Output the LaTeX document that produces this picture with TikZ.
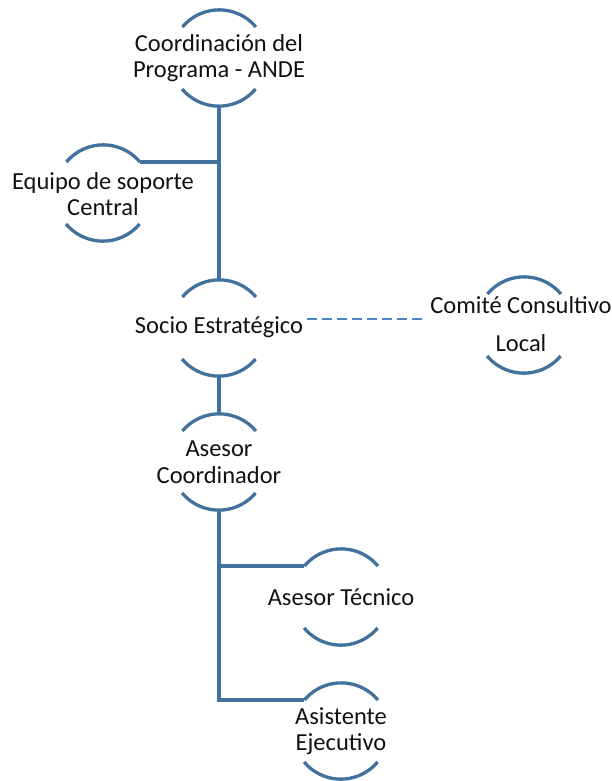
\documentclass[tikz,border=0pt]{standalone}
\usepackage{fontspec}
\setmainfont{Carlito}
\definecolor{arcblue}{HTML}{41719C}
\definecolor{dashblue}{HTML}{4A84C4}
\definecolor{txt}{HTML}{111111}
\begin{document}
\begin{tikzpicture}[x=1pt,y=-1pt,
  ring/.style={circle,draw=none,minimum size=96pt,inner sep=0pt},
  lbl/.style={align=center,text=txt,font=\fontsize{24.5}{26.5}\selectfont,inner sep=2pt},
  arcline/.style={draw=arcblue,line width=3.3pt},
  conn/.style={draw=arcblue,line width=3.3pt},
  dconn/.style={draw=dashblue,line width=2.6pt,dash pattern=on 10pt off 5pt}]
\useasboundingbox (0,0) rectangle (612,781);
% ring placeholders
\node[ring] (c1) at (219,58) {};
\node[ring] (eq) at (103,193) {};
\node[ring] (so) at (219,328) {};
\node[ring] (cc) at (524,325) {};
\node[ring] (ac) at (219,462) {};
\node[ring] (at) at (341,597) {};
\node[ring] (ae) at (341,731) {};
% arcs
\foreach \n in {c1,eq,so,cc,ac,at,ae}{
  \draw[arcline] (\n.40) arc[start angle=40,end angle=140,radius=48pt];
  \draw[arcline] (\n.220) arc[start angle=220,end angle=320,radius=48pt];
}
% labels
\node[lbl] (c1t) at (219,58) {Coordinación del\\Programa - ANDE};
\node[lbl] (eqt) at (103,194) {Equipo de soporte\\Central};
\node[lbl] (sot) at (219,327) {Socio Estratégico};
\node[lbl] (cct) at (521,324) {Comité Consultivo\\[11pt]Local};
\node[lbl] (act) at (219,462) {Asesor\\Coordinador};
\node[lbl] (att) at (341,597) {Asesor Técnico};
\node[lbl] (aet) at (341,731) {Asistente\\Ejecutivo};
% connectors
\draw[conn] (c1.south) -- (so.north);
\draw[conn] (eq.40) -- (eq.40 -| c1.south);
\draw[conn] (so.south) -- (ac.north);
\draw[conn] (ac.south) |- (at.140);
\draw[conn] (ac.south) |- (ae.140);
\coordinate (d1) at (307,319);
\coordinate (d2) at (425,319);
\draw[dconn] (d1) -- (d2);
\end{tikzpicture}
\end{document}
